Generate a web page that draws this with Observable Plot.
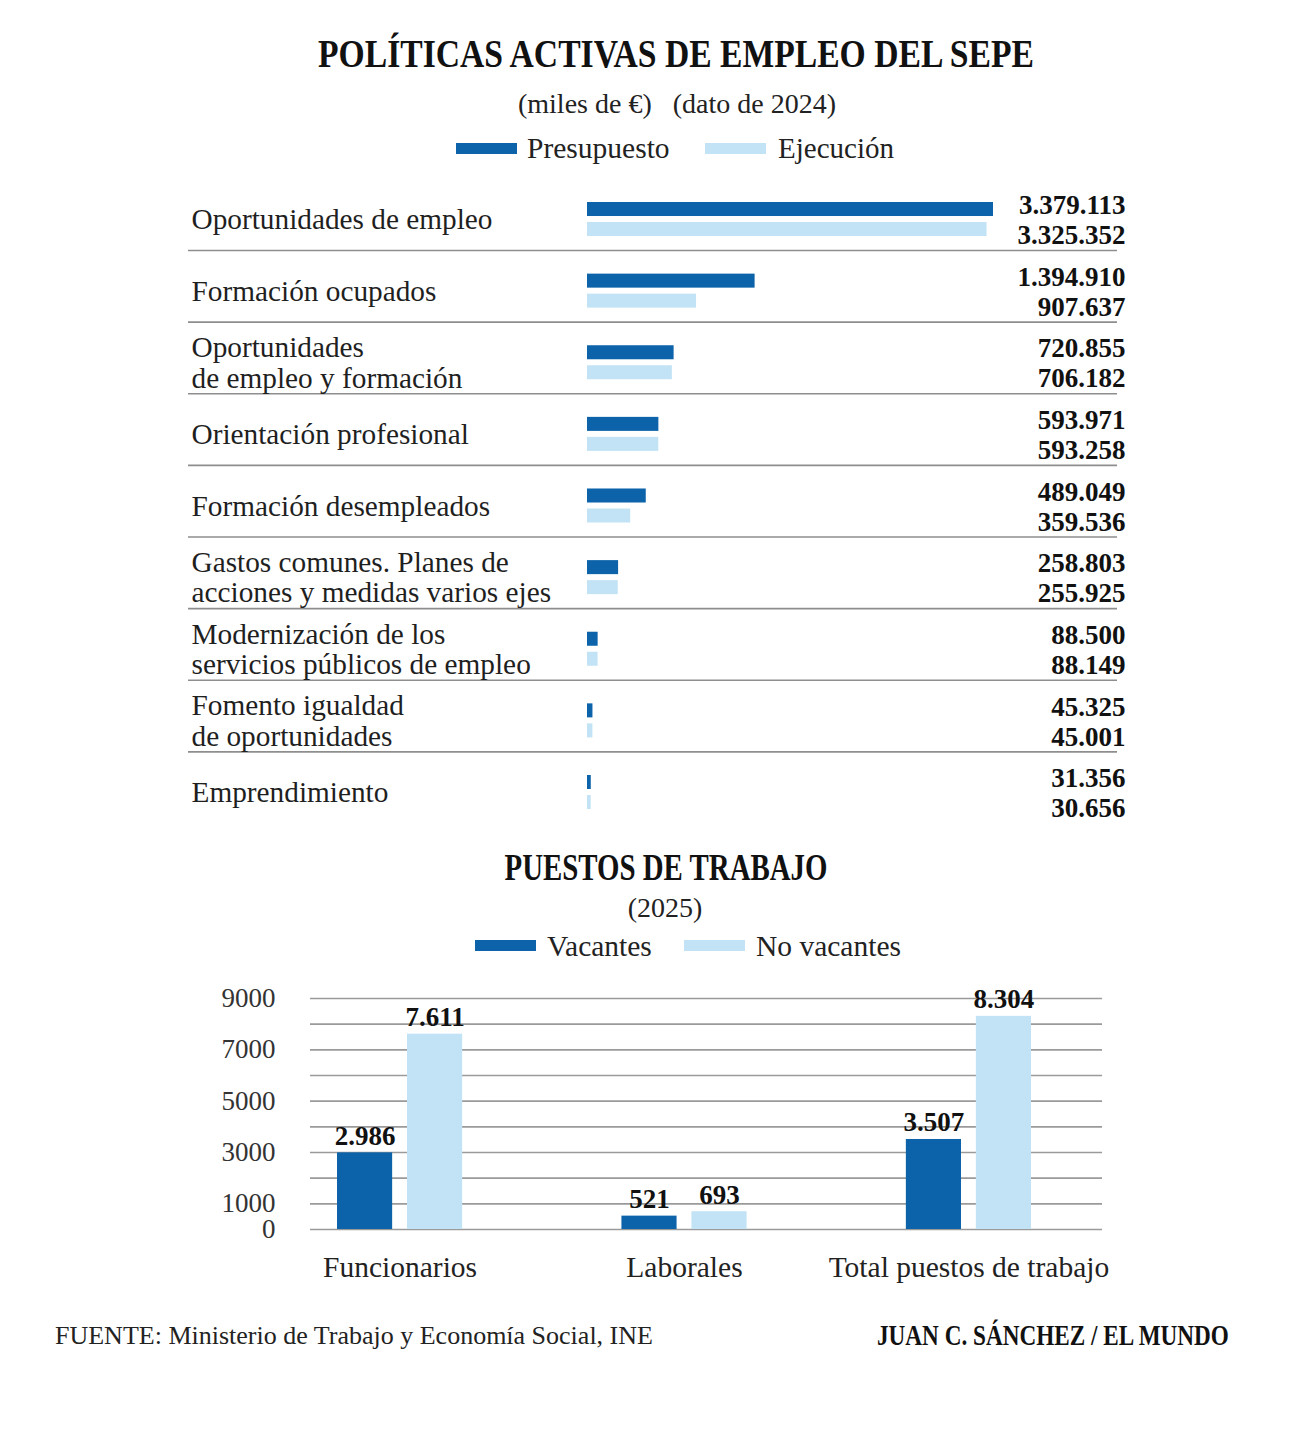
<!DOCTYPE html>
<html><head><meta charset="utf-8">
<script src="https://cdn.jsdelivr.net/npm/d3@7"></script>
<script src="https://cdn.jsdelivr.net/npm/@observablehq/plot@0.6"></script>
<style>
body{margin:0;background:#fff;font-family:"Liberation Serif",serif;color:#1a1a1a;}
#page{position:relative;width:1292px;height:1430px;overflow:hidden;background:#fff;}
.t{position:absolute;white-space:pre;line-height:1;}
.sw{position:absolute;height:11px;width:61px;}
.chart{position:absolute;left:0;}
</style></head><body><div id="page"></div>
<script>
// ---- Data: Políticas activas de empleo del SEPE (miles de €, 2024)
const categorias = [
  "Oportunidades de empleo",
  "Formación ocupados",
  "Oportunidades\nde empleo y formación",
  "Orientación profesional",
  "Formación desempleados",
  "Gastos comunes. Planes de\nacciones y medidas varios ejes",
  "Modernización de los\nservicios públicos de empleo",
  "Fomento igualdad\nde oportunidades",
  "Emprendimiento"
];
const presupuesto = [3379113, 1394910, 720855, 593971, 489049, 258803, 88500, 45325, 31356];
const ejecucion   = [3325352, 907637, 706182, 593258, 359536, 255925, 88149, 45001, 30656];
const seriesTop = ["Presupuesto", "Ejecución"];

// ---- Data: Puestos de trabajo (2025)
const grupos = ["Funcionarios", "Laborales", "Total puestos de trabajo"];
const vacantes = [2986, 521, 3507];
const noVacantes = [7611, 693, 8304];
const seriesBottom = ["Vacantes", "No vacantes"];
const yTickLabels = [0, 1000, 3000, 5000, 7000, 9000];
const gridValues = [0, 1000, 2000, 3000, 4000, 5000, 6000, 7000, 8000, 9000];

const DARK = "#0d63aa";
const LIGHT = "#c2e3f5";
const FONT = "'Liberation Serif', 'DejaVu Serif', serif";
const fmt = d3.formatLocale({decimal: ",", thousands: ".", grouping: [3], currency: ["", " €"]}).format(",d");

const page = document.getElementById("page");
function addText(str, o) {
  const d = document.createElement("div");
  d.className = "t";
  d.textContent = str;
  d.style.top = o.top + "px";
  d.style.fontSize = o.size + "px";
  if (o.bold) d.style.fontWeight = "bold";
  if (o.color) d.style.color = o.color;
  const sx = o.scale || 1;
  if (o.center !== undefined) {
    d.style.left = o.center + "px";
    d.style.transform = `translateX(-50%) scaleX(${sx})`;
  } else if (o.right !== undefined) {
    d.style.right = (1292 - o.right) + "px";
    d.style.transformOrigin = "right center";
    d.style.transform = `scaleX(${sx})`;
  } else {
    d.style.left = o.left + "px";
    d.style.transformOrigin = "left center";
    d.style.transform = `scaleX(${sx})`;
  }
  page.appendChild(d);
}
function addSwatch(left, top, color) {
  const s = document.createElement("div");
  s.className = "sw";
  s.style.left = left + "px";
  s.style.top = top + "px";
  s.style.background = color;
  page.appendChild(s);
}

// ---- Titles & legends
addText("POLÍTICAS ACTIVAS DE EMPLEO DEL SEPE", {center: 676, top: 33, size: 41, bold: true, scale: 0.82, color: "#111"});
addText("(miles de €)   (dato de 2024)", {center: 677, top: 90, size: 28, color: "#222"});
addSwatch(456, 143, DARK);
addText(seriesTop[0], {left: 527, top: 134, size: 29.5, color: "#222"});
addSwatch(705, 143, LIGHT);
addText(seriesTop[1], {left: 778, top: 134, size: 29, color: "#222"});

addText("PUESTOS DE TRABAJO", {center: 666, top: 849, size: 37, bold: true, scale: 0.78, color: "#111"});
addText("(2025)", {center: 665, top: 894, size: 28, color: "#222"});
addSwatch(475, 940, DARK);
addText(seriesBottom[0], {left: 547, top: 932, size: 29.5, color: "#222"});
addSwatch(684, 940, LIGHT);
addText(seriesBottom[1], {left: 756, top: 932, size: 29.5, color: "#222"});

addText("FUENTE: Ministerio de Trabajo y Economía Social, INE", {left: 55, top: 1323, size: 26, color: "#222"});
addText("JUAN C. SÁNCHEZ / EL MUNDO", {right: 1229, top: 1321, size: 29, bold: true, scale: 0.8, color: "#111"});

// ---- Top chart
const topRows = categorias.map((c, i) => ({categoria: c, presupuesto: presupuesto[i], ejecucion: ejecucion[i]}));
const topChart = Plot.plot({
  width: 1292, height: 650,
  marginLeft: 188, marginRight: 175, marginTop: 0, marginBottom: 0,
  style: {fontFamily: FONT, background: "transparent", color: "#1a1a1a", overflow: "visible"},
  x: {domain: [0, 3379113], range: [587, 993], axis: null},
  y: {domain: categorias, range: [3.2, 647.8], paddingInner: 0.525, paddingOuter: 0.2625, round: false, axis: null},
  marks: [
    Plot.ruleY(topRows.slice(0, -1), {y: "categoria", dy: 31, stroke: "#8e8e8e", strokeWidth: 1.6}),
    Plot.barX(topRows, {y: "categoria", x: "presupuesto", fill: DARK, insetBottom: 20}),
    Plot.barX(topRows, {y: "categoria", x: "ejecucion", fill: LIGHT, insetTop: 20}),
    Plot.text(topRows, {y: "categoria", text: "categoria", frameAnchor: "left", textAnchor: "start", dx: 3, fontSize: 29.3, lineHeight: 1.03, fill: "#1f1f1f"}),
    Plot.text(topRows, {y: "categoria", text: d => fmt(d.presupuesto), frameAnchor: "right", textAnchor: "end", dx: 8, dy: -14, fontSize: 27, fontWeight: "bold", fill: "#111"}),
    Plot.text(topRows, {y: "categoria", text: d => fmt(d.ejecucion), frameAnchor: "right", textAnchor: "end", dx: 8, dy: 16, fontSize: 27, fontWeight: "bold", fill: "#111"})
  ]
});
topChart.classList.add("chart");
topChart.style.top = "180px";
page.appendChild(topChart);

// ---- Bottom chart
const botV = grupos.map((g, i) => ({grupo: g, valor: vacantes[i]}));
const botN = grupos.map((g, i) => ({grupo: g, valor: noVacantes[i]}));
const bottomChart = Plot.plot({
  width: 1292, height: 310,
  marginLeft: 310, marginRight: 190, marginTop: 18, marginBottom: 61,
  style: {fontFamily: FONT, background: "transparent", color: "#1a1a1a", overflow: "visible"},
  x: {domain: grupos, range: [337, 1031], paddingInner: 0.56, paddingOuter: 0, round: false, axis: null},
  y: {domain: [0, 9000], axis: null},
  marks: [
    Plot.ruleY(gridValues, {stroke: "#9a9a9a", strokeWidth: 1.6}),
    Plot.barY(botV, {x: "grupo", y: "valor", fill: DARK, insetRight: 70}),
    Plot.barY(botN, {x: "grupo", y: "valor", fill: LIGHT, insetLeft: 70}),
    Plot.text(botV, {x: "grupo", y: "valor", text: d => fmt(d.valor), dx: -35, dy: -8, lineAnchor: "bottom", fontSize: 27, fontWeight: "bold", fill: "#111"}),
    Plot.text(botN, {x: "grupo", y: "valor", text: d => fmt(d.valor), dx: 35, dy: -8, lineAnchor: "bottom", fontSize: 27, fontWeight: "bold", fill: "#111"}),
    Plot.text(yTickLabels, {y: d => d, text: d => String(d), frameAnchor: "left", textAnchor: "end", dx: -35, fontSize: 27, fill: "#333"}),
    Plot.text(grupos, {x: d => d, text: d => d, frameAnchor: "bottom", lineAnchor: "top", dy: 27, fontSize: 29.5, fill: "#222"})
  ]
});
bottomChart.classList.add("chart");
bottomChart.style.top = "980px";
page.appendChild(bottomChart);
</script>
</body></html>
